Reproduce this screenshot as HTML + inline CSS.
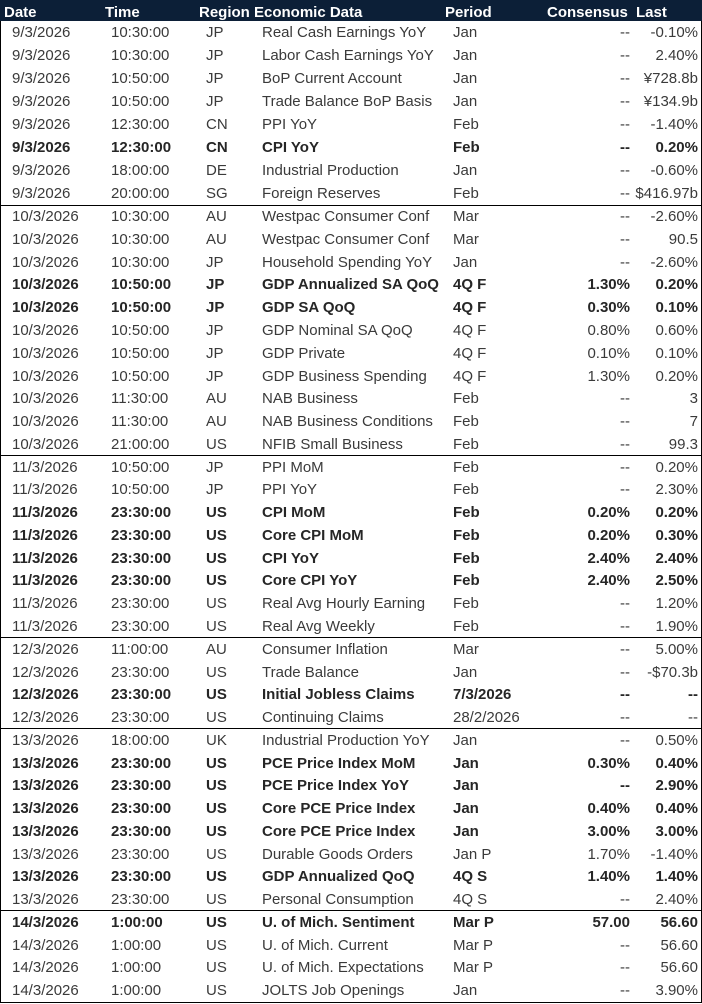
<!DOCTYPE html>
<html>
<head>
<meta charset="utf-8">
<style>
html,body{margin:0;padding:0;background:#fff;}
body{width:702px;height:1004px;position:relative;overflow:hidden;font-family:"Liberation Sans",Arial,sans-serif;font-size:15px;color:#3a3a3a;}
#frame{position:absolute;left:0;top:0;width:702px;height:1003px;box-sizing:border-box;border-left:1px solid #000;border-right:1px solid #000;border-bottom:1px solid #000;}
#hdr{position:absolute;left:0;top:0;width:702px;height:21px;background:#0c1f37;color:#fff;font-weight:bold;}
#hdr span{position:absolute;top:1.5px;line-height:21px;white-space:nowrap;}
#rows{position:absolute;left:0;top:21px;width:702px;}
.row{position:relative;height:22.771px;}
.g1 .row{height:23px;}
.row span{position:absolute;top:1.2px;line-height:22.77px;white-space:nowrap;}
.b{font-weight:bold;color:#262626;}
.sep::before{content:"";position:absolute;left:0;width:702px;top:-0.5px;height:1px;background:#000;}
.d{left:12px;}
.t{left:111px;}
.r{left:206px;}
.e{left:262px;}
.p{left:453px;}
.c{right:72px;text-align:right;}
.l{right:4px;text-align:right;}
</style>
</head>
<body>
<div id="frame"></div>
<div id="hdr">
<span style="left:4px">Date</span>
<span style="left:105px">Time</span>
<span style="left:199px">Region</span>
<span style="left:254px">Economic Data</span>
<span style="left:445px">Period</span>
<span style="left:547px">Consensus</span>
<span style="left:636px">Last</span>
</div>
<div id="rows">
<div class="g1">
<div class="row"><span class="d">9/3/2026</span><span class="t">10:30:00</span><span class="r">JP</span><span class="e">Real Cash Earnings YoY</span><span class="p">Jan</span><span class="c">--</span><span class="l">-0.10%</span></div>
<div class="row"><span class="d">9/3/2026</span><span class="t">10:30:00</span><span class="r">JP</span><span class="e">Labor Cash Earnings YoY</span><span class="p">Jan</span><span class="c">--</span><span class="l">2.40%</span></div>
<div class="row"><span class="d">9/3/2026</span><span class="t">10:50:00</span><span class="r">JP</span><span class="e">BoP Current Account</span><span class="p">Jan</span><span class="c">--</span><span class="l">¥728.8b</span></div>
<div class="row"><span class="d">9/3/2026</span><span class="t">10:50:00</span><span class="r">JP</span><span class="e">Trade Balance BoP Basis</span><span class="p">Jan</span><span class="c">--</span><span class="l">¥134.9b</span></div>
<div class="row"><span class="d">9/3/2026</span><span class="t">12:30:00</span><span class="r">CN</span><span class="e">PPI YoY</span><span class="p">Feb</span><span class="c">--</span><span class="l">-1.40%</span></div>
<div class="row b"><span class="d">9/3/2026</span><span class="t">12:30:00</span><span class="r">CN</span><span class="e">CPI YoY</span><span class="p">Feb</span><span class="c">--</span><span class="l">0.20%</span></div>
<div class="row"><span class="d">9/3/2026</span><span class="t">18:00:00</span><span class="r">DE</span><span class="e">Industrial Production</span><span class="p">Jan</span><span class="c">--</span><span class="l">-0.60%</span></div>
<div class="row"><span class="d">9/3/2026</span><span class="t">20:00:00</span><span class="r">SG</span><span class="e">Foreign Reserves</span><span class="p">Feb</span><span class="c">--</span><span class="l">$416.97b</span></div>
</div>

<div class="row sep"><span class="d">10/3/2026</span><span class="t">10:30:00</span><span class="r">AU</span><span class="e">Westpac Consumer Conf</span><span class="p">Mar</span><span class="c">--</span><span class="l">-2.60%</span></div>
<div class="row"><span class="d">10/3/2026</span><span class="t">10:30:00</span><span class="r">AU</span><span class="e">Westpac Consumer Conf</span><span class="p">Mar</span><span class="c">--</span><span class="l">90.5</span></div>
<div class="row"><span class="d">10/3/2026</span><span class="t">10:30:00</span><span class="r">JP</span><span class="e">Household Spending YoY</span><span class="p">Jan</span><span class="c">--</span><span class="l">-2.60%</span></div>
<div class="row b"><span class="d">10/3/2026</span><span class="t">10:50:00</span><span class="r">JP</span><span class="e">GDP Annualized SA QoQ</span><span class="p">4Q F</span><span class="c">1.30%</span><span class="l">0.20%</span></div>
<div class="row b"><span class="d">10/3/2026</span><span class="t">10:50:00</span><span class="r">JP</span><span class="e">GDP SA QoQ</span><span class="p">4Q F</span><span class="c">0.30%</span><span class="l">0.10%</span></div>
<div class="row"><span class="d">10/3/2026</span><span class="t">10:50:00</span><span class="r">JP</span><span class="e">GDP Nominal SA QoQ</span><span class="p">4Q F</span><span class="c">0.80%</span><span class="l">0.60%</span></div>
<div class="row"><span class="d">10/3/2026</span><span class="t">10:50:00</span><span class="r">JP</span><span class="e">GDP Private</span><span class="p">4Q F</span><span class="c">0.10%</span><span class="l">0.10%</span></div>
<div class="row"><span class="d">10/3/2026</span><span class="t">10:50:00</span><span class="r">JP</span><span class="e">GDP Business Spending</span><span class="p">4Q F</span><span class="c">1.30%</span><span class="l">0.20%</span></div>
<div class="row"><span class="d">10/3/2026</span><span class="t">11:30:00</span><span class="r">AU</span><span class="e">NAB Business</span><span class="p">Feb</span><span class="c">--</span><span class="l">3</span></div>
<div class="row"><span class="d">10/3/2026</span><span class="t">11:30:00</span><span class="r">AU</span><span class="e">NAB Business Conditions</span><span class="p">Feb</span><span class="c">--</span><span class="l">7</span></div>
<div class="row"><span class="d">10/3/2026</span><span class="t">21:00:00</span><span class="r">US</span><span class="e">NFIB Small Business</span><span class="p">Feb</span><span class="c">--</span><span class="l">99.3</span></div>

<div class="row sep"><span class="d">11/3/2026</span><span class="t">10:50:00</span><span class="r">JP</span><span class="e">PPI MoM</span><span class="p">Feb</span><span class="c">--</span><span class="l">0.20%</span></div>
<div class="row"><span class="d">11/3/2026</span><span class="t">10:50:00</span><span class="r">JP</span><span class="e">PPI YoY</span><span class="p">Feb</span><span class="c">--</span><span class="l">2.30%</span></div>
<div class="row b"><span class="d">11/3/2026</span><span class="t">23:30:00</span><span class="r">US</span><span class="e">CPI MoM</span><span class="p">Feb</span><span class="c">0.20%</span><span class="l">0.20%</span></div>
<div class="row b"><span class="d">11/3/2026</span><span class="t">23:30:00</span><span class="r">US</span><span class="e">Core CPI MoM</span><span class="p">Feb</span><span class="c">0.20%</span><span class="l">0.30%</span></div>
<div class="row b"><span class="d">11/3/2026</span><span class="t">23:30:00</span><span class="r">US</span><span class="e">CPI YoY</span><span class="p">Feb</span><span class="c">2.40%</span><span class="l">2.40%</span></div>
<div class="row b"><span class="d">11/3/2026</span><span class="t">23:30:00</span><span class="r">US</span><span class="e">Core CPI YoY</span><span class="p">Feb</span><span class="c">2.40%</span><span class="l">2.50%</span></div>
<div class="row"><span class="d">11/3/2026</span><span class="t">23:30:00</span><span class="r">US</span><span class="e">Real Avg Hourly Earning</span><span class="p">Feb</span><span class="c">--</span><span class="l">1.20%</span></div>
<div class="row"><span class="d">11/3/2026</span><span class="t">23:30:00</span><span class="r">US</span><span class="e">Real Avg Weekly</span><span class="p">Feb</span><span class="c">--</span><span class="l">1.90%</span></div>

<div class="row sep"><span class="d">12/3/2026</span><span class="t">11:00:00</span><span class="r">AU</span><span class="e">Consumer Inflation</span><span class="p">Mar</span><span class="c">--</span><span class="l">5.00%</span></div>
<div class="row"><span class="d">12/3/2026</span><span class="t">23:30:00</span><span class="r">US</span><span class="e">Trade Balance</span><span class="p">Jan</span><span class="c">--</span><span class="l">-$70.3b</span></div>
<div class="row b"><span class="d">12/3/2026</span><span class="t">23:30:00</span><span class="r">US</span><span class="e">Initial Jobless Claims</span><span class="p">7/3/2026</span><span class="c">--</span><span class="l">--</span></div>
<div class="row"><span class="d">12/3/2026</span><span class="t">23:30:00</span><span class="r">US</span><span class="e">Continuing Claims</span><span class="p">28/2/2026</span><span class="c">--</span><span class="l">--</span></div>

<div class="row sep"><span class="d">13/3/2026</span><span class="t">18:00:00</span><span class="r">UK</span><span class="e">Industrial Production YoY</span><span class="p">Jan</span><span class="c">--</span><span class="l">0.50%</span></div>
<div class="row b"><span class="d">13/3/2026</span><span class="t">23:30:00</span><span class="r">US</span><span class="e">PCE Price Index MoM</span><span class="p">Jan</span><span class="c">0.30%</span><span class="l">0.40%</span></div>
<div class="row b"><span class="d">13/3/2026</span><span class="t">23:30:00</span><span class="r">US</span><span class="e">PCE Price Index YoY</span><span class="p">Jan</span><span class="c">--</span><span class="l">2.90%</span></div>
<div class="row b"><span class="d">13/3/2026</span><span class="t">23:30:00</span><span class="r">US</span><span class="e">Core PCE Price Index</span><span class="p">Jan</span><span class="c">0.40%</span><span class="l">0.40%</span></div>
<div class="row b"><span class="d">13/3/2026</span><span class="t">23:30:00</span><span class="r">US</span><span class="e">Core PCE Price Index</span><span class="p">Jan</span><span class="c">3.00%</span><span class="l">3.00%</span></div>
<div class="row"><span class="d">13/3/2026</span><span class="t">23:30:00</span><span class="r">US</span><span class="e">Durable Goods Orders</span><span class="p">Jan P</span><span class="c">1.70%</span><span class="l">-1.40%</span></div>
<div class="row b"><span class="d">13/3/2026</span><span class="t">23:30:00</span><span class="r">US</span><span class="e">GDP Annualized QoQ</span><span class="p">4Q S</span><span class="c">1.40%</span><span class="l">1.40%</span></div>
<div class="row"><span class="d">13/3/2026</span><span class="t">23:30:00</span><span class="r">US</span><span class="e">Personal Consumption</span><span class="p">4Q S</span><span class="c">--</span><span class="l">2.40%</span></div>

<div class="row sep b"><span class="d">14/3/2026</span><span class="t">1:00:00</span><span class="r">US</span><span class="e">U. of Mich. Sentiment</span><span class="p">Mar P</span><span class="c">57.00</span><span class="l">56.60</span></div>
<div class="row"><span class="d">14/3/2026</span><span class="t">1:00:00</span><span class="r">US</span><span class="e">U. of Mich. Current</span><span class="p">Mar P</span><span class="c">--</span><span class="l">56.60</span></div>
<div class="row"><span class="d">14/3/2026</span><span class="t">1:00:00</span><span class="r">US</span><span class="e">U. of Mich. Expectations</span><span class="p">Mar P</span><span class="c">--</span><span class="l">56.60</span></div>
<div class="row"><span class="d">14/3/2026</span><span class="t">1:00:00</span><span class="r">US</span><span class="e">JOLTS Job Openings</span><span class="p">Jan</span><span class="c">--</span><span class="l">3.90%</span></div>
</div>
</body>
</html>
